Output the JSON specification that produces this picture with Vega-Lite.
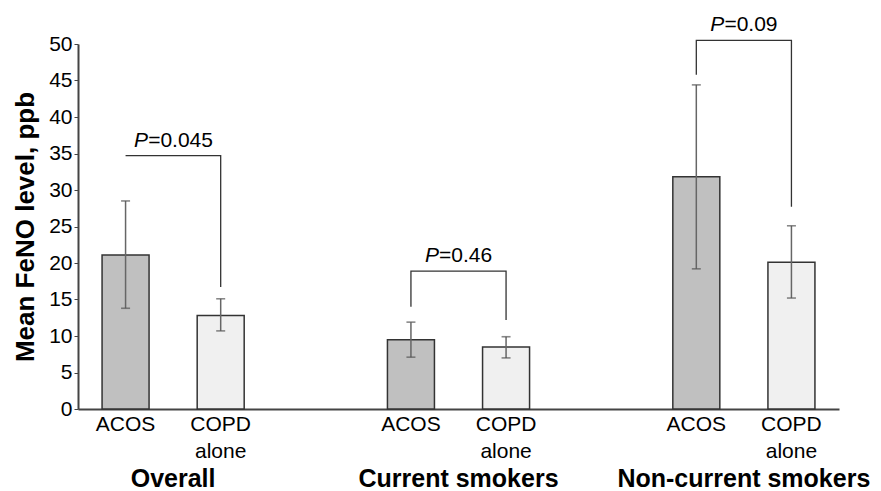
{
  "$schema": "https://vega.github.io/schema/vega-lite/v6.json",
  "width": 761,
  "height": 365,
  "autosize": {"type": "none"},
  "padding": {"left": 78, "top": 44, "right": 42, "bottom": 82},
  "config": {
    "view": {"stroke": null},
    "font": "Liberation Sans",
    "text": {"font": "Liberation Sans"},
    "axisY": {"labelOverlap": false, "grid": false, "domainColor": "#444444", "domainWidth": 2, "tickColor": "#444444", "tickSize": 4, "labelFontSize": 21, "labelColor": "#000000", "labelPadding": 2, "titleFontSize": 26, "titleFontWeight": "bold", "titleColor": "#000000", "titlePadding": 10},
    "axisX": {"labelAngle": 0, "ticks": false, "domainColor": "#444444", "domainWidth": 2, "labelFontSize": 21, "labelColor": "#000000", "labelPadding": 4, "labelLineHeight": 27}
  },
  "datasets": {
    "bars": [
      {"group": "Overall", "arm": "ACOS", "slot": "Overall|ACOS", "mean": 21.1, "lo": 13.8, "hi": 28.5},
      {"group": "Overall", "arm": "COPD alone", "slot": "Overall|COPD", "mean": 12.8, "lo": 10.7, "hi": 15.1},
      {"group": "Current smokers", "arm": "ACOS", "slot": "Current|ACOS", "mean": 9.5, "lo": 7.1, "hi": 11.9},
      {"group": "Current smokers", "arm": "COPD alone", "slot": "Current|COPD", "mean": 8.5, "lo": 7.0, "hi": 9.9},
      {"group": "Non-current smokers", "arm": "ACOS", "slot": "Non|ACOS", "mean": 31.8, "lo": 19.2, "hi": 44.4},
      {"group": "Non-current smokers", "arm": "COPD alone", "slot": "Non|COPD", "mean": 20.1, "lo": 15.2, "hi": 25.1}
    ],
    "brackets": [
      {"group": "Overall", "slot": "Overall|ACOS", "y": 34.7, "ord": 1},
      {"group": "Overall", "slot": "Overall|COPD", "y": 34.7, "ord": 2},
      {"group": "Overall", "slot": "Overall|COPD", "y": 16.7, "ord": 3},
      {"group": "Current smokers", "slot": "Current|ACOS", "y": 14.0, "ord": 1},
      {"group": "Current smokers", "slot": "Current|ACOS", "y": 18.9, "ord": 2},
      {"group": "Current smokers", "slot": "Current|COPD", "y": 18.9, "ord": 3},
      {"group": "Current smokers", "slot": "Current|COPD", "y": 12.2, "ord": 4},
      {"group": "Non-current smokers", "slot": "Non|ACOS", "y": 45.8, "ord": 1},
      {"group": "Non-current smokers", "slot": "Non|ACOS", "y": 50.5, "ord": 2},
      {"group": "Non-current smokers", "slot": "Non|COPD", "y": 50.5, "ord": 3},
      {"group": "Non-current smokers", "slot": "Non|COPD", "y": 27.7, "ord": 4}
    ],
    "pvals": [
      {"group": "Overall", "slot": "Overall|ACOS", "y": 34.7, "p": "P", "rest": "=0.045"},
      {"group": "Current smokers", "slot": "Current|ACOS", "y": 18.9, "p": "P", "rest": "=0.46"},
      {"group": "Non-current smokers", "slot": "Non|ACOS", "y": 50.5, "p": "P", "rest": "=0.09"}
    ],
    "groups": [
      {"slot": "Overall|ACOS", "title": "Overall"},
      {"slot": "Current|ACOS", "title": "Current smokers"},
      {"slot": "Non|ACOS", "title": "Non-current smokers"}
    ]
  },
  "layer": [
    {
      "data": {"name": "bars"},
      "mark": {"type": "bar", "width": 47, "stroke": "#333333", "strokeWidth": 1.5},
      "encoding": {
        "x": {
          "field": "slot", "type": "nominal", "sort": null, "title": null,
          "scale": {"domain": ["Overall|ACOS", "Overall|COPD", "gap1", "Current|ACOS", "Current|COPD", "gap2", "Non|ACOS", "Non|COPD"], "paddingInner": 0, "paddingOuter": 0},
          "axis": {
            "labelExpr": "indexof(datum.value, 'ACOS') >= 0 ? 'ACOS' : (indexof(datum.value, 'COPD') >= 0 ? ['COPD', 'alone'] : '')"
          }
        },
        "y": {
          "field": "mean", "type": "quantitative", "title": "Mean FeNO level, ppb",
          "scale": {"domain": [0, 50], "nice": false},
          "axis": {"values": [0, 5, 10, 15, 20, 25, 30, 35, 40, 45, 50], "tickCount": 11}
        },
        "color": {
          "field": "arm", "type": "nominal", "legend": null,
          "scale": {"domain": ["ACOS", "COPD alone"], "range": ["#c0c0c0", "#f0f0f0"]}
        }
      }
    },
    {
      "data": {"name": "bars"},
      "mark": {"type": "rule", "color": "#666666", "strokeWidth": 1.5},
      "encoding": {
        "x": {"field": "slot", "type": "nominal", "title": null},
        "y": {"field": "lo", "type": "quantitative", "title": "Mean FeNO level, ppb"},
        "y2": {"field": "hi"}
      }
    },
    {
      "data": {"name": "bars"},
      "mark": {"type": "tick", "color": "#555555", "size": 9, "thickness": 1.6, "orient": "horizontal"},
      "encoding": {
        "x": {"field": "slot", "type": "nominal", "title": null},
        "y": {"field": "lo", "type": "quantitative", "title": "Mean FeNO level, ppb"}
      }
    },
    {
      "data": {"name": "bars"},
      "mark": {"type": "tick", "color": "#555555", "size": 9, "thickness": 1.6, "orient": "horizontal"},
      "encoding": {
        "x": {"field": "slot", "type": "nominal", "title": null},
        "y": {"field": "hi", "type": "quantitative", "title": "Mean FeNO level, ppb"}
      }
    },
    {
      "data": {"name": "brackets"},
      "mark": {"type": "line", "color": "#333333", "strokeWidth": 1.3},
      "encoding": {
        "x": {"field": "slot", "type": "nominal", "title": null},
        "y": {"field": "y", "type": "quantitative", "title": "Mean FeNO level, ppb"},
        "detail": {"field": "group"},
        "order": {"field": "ord", "type": "quantitative"}
      }
    },
    {
      "data": {"name": "pvals"},
      "transform": [{"filter": "datum.group === 'Overall'"}],
      "mark": {"type": "text", "fontSize": 21, "fontStyle": "italic", "align": "right", "baseline": "middle", "dx": -25, "dy": -15, "color": "#000000"},
      "encoding": {
        "x": {"field": "slot", "type": "nominal", "title": null, "bandPosition": 1},
        "y": {"field": "y", "type": "quantitative", "title": "Mean FeNO level, ppb"},
        "text": {"field": "p"}
      }
    },
    {
      "data": {"name": "pvals"},
      "transform": [{"filter": "datum.group === 'Overall'"}],
      "mark": {"type": "text", "fontSize": 21, "align": "left", "baseline": "middle", "dx": -25, "dy": -15, "color": "#000000"},
      "encoding": {
        "x": {"field": "slot", "type": "nominal", "title": null, "bandPosition": 1},
        "y": {"field": "y", "type": "quantitative", "title": "Mean FeNO level, ppb"},
        "text": {"field": "rest"}
      }
    },
    {
      "data": {"name": "pvals"},
      "transform": [{"filter": "datum.group !== 'Overall'"}],
      "mark": {"type": "text", "fontSize": 21, "fontStyle": "italic", "align": "right", "baseline": "middle", "dx": -19.5, "dy": -15, "color": "#000000"},
      "encoding": {
        "x": {"field": "slot", "type": "nominal", "title": null, "bandPosition": 1},
        "y": {"field": "y", "type": "quantitative", "title": "Mean FeNO level, ppb"},
        "text": {"field": "p"}
      }
    },
    {
      "data": {"name": "pvals"},
      "transform": [{"filter": "datum.group !== 'Overall'"}],
      "mark": {"type": "text", "fontSize": 21, "align": "left", "baseline": "middle", "dx": -19.5, "dy": -15, "color": "#000000"},
      "encoding": {
        "x": {"field": "slot", "type": "nominal", "title": null, "bandPosition": 1},
        "y": {"field": "y", "type": "quantitative", "title": "Mean FeNO level, ppb"},
        "text": {"field": "rest"}
      }
    },
    {
      "data": {"name": "groups"},
      "mark": {"type": "text", "fontSize": 25, "fontWeight": "bold", "align": "center", "baseline": "alphabetic", "dy": 78, "color": "#000000"},
      "encoding": {
        "x": {"field": "slot", "type": "nominal", "title": null, "bandPosition": 1},
        "y": {"datum": 0, "type": "quantitative", "title": "Mean FeNO level, ppb"},
        "text": {"field": "title"}
      }
    }
  ]
}
